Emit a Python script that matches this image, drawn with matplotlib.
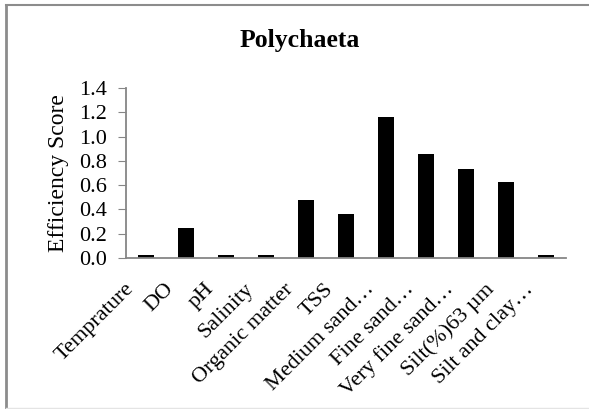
import numpy as np
import matplotlib
matplotlib.use('Agg')
import matplotlib.pyplot as plt
import matplotlib.transforms as mtransforms
from matplotlib.lines import Line2D

plt.rcParams['font.family'] = ['Liberation Serif', 'DejaVu Serif']

# %%
categories = ['Temprature', 'DO', 'pH', 'Salinity', 'Organic matter', 'TSS',
              'Medium sand…', 'Fine sand…', 'Very fine sand…', 'Silt(%)63 µm',
              'Silt and clay…']
scores = [0.025, 0.25, 0.025, 0.027, 0.48, 0.36, 1.16, 0.86, 0.73, 0.63, 0.025]
yticks = [0.0, 0.2, 0.4, 0.6, 0.8, 1.0, 1.2, 1.4]

# %%
fig = plt.figure(figsize=(5.89, 4.09), dpi=100)
ax = fig.add_axes([126/589, 1 - 258/409, 440/589, 170/409])
x = np.arange(len(categories))
ax.bar(x, scores, width=0.38, color='black')
ax.set_xlim(-0.5, len(categories) - 0.5)
ax.set_ylim(0, 1.4)
ax.set_yticks(yticks)
ax.set_yticklabels(['%.1f' % v for v in yticks], fontsize=16)
ax.set_xticks(x)
ax.set_xticklabels(categories, rotation=45, ha='right', va='center',
                   rotation_mode='anchor', fontsize=16)
ax.tick_params(axis='x', length=0, pad=14)
ax.tick_params(axis='y', length=6, color='#868686', pad=8)
# nudge category labels left/down, as the original does
shift = mtransforms.ScaledTranslation(-15/100, -9/100, fig.dpi_scale_trans)
for lab in ax.get_xticklabels():
    lab.set_transform(lab.get_transform() + shift)
for s in ['top', 'right']:
    ax.spines[s].set_visible(False)
for s in ['left', 'bottom']:
    ax.spines[s].set_color('#868686')
    ax.spines[s].set_linewidth(1.3)
ax.set_ylabel('Efficiency Score', fontsize=17, labelpad=7)
fig.text(300/589, 1 - 41/409, 'Polychaeta', fontsize=18.5, fontweight='bold',
         ha='center', va='center')

# chart frame
fig.add_artist(Line2D([5.5/589, 5.5/589], [0, 1 - 5/409], color='#8c8c8c', lw=2))
fig.add_artist(Line2D([5.5/589, 1], [1 - 5/409, 1 - 5/409], color='#8c8c8c', lw=1.5))
fig.add_artist(Line2D([5.5/589, 1], [1/409, 1/409], color='#e4e4e4', lw=1))
fig.savefig('out.png', dpi=100)
